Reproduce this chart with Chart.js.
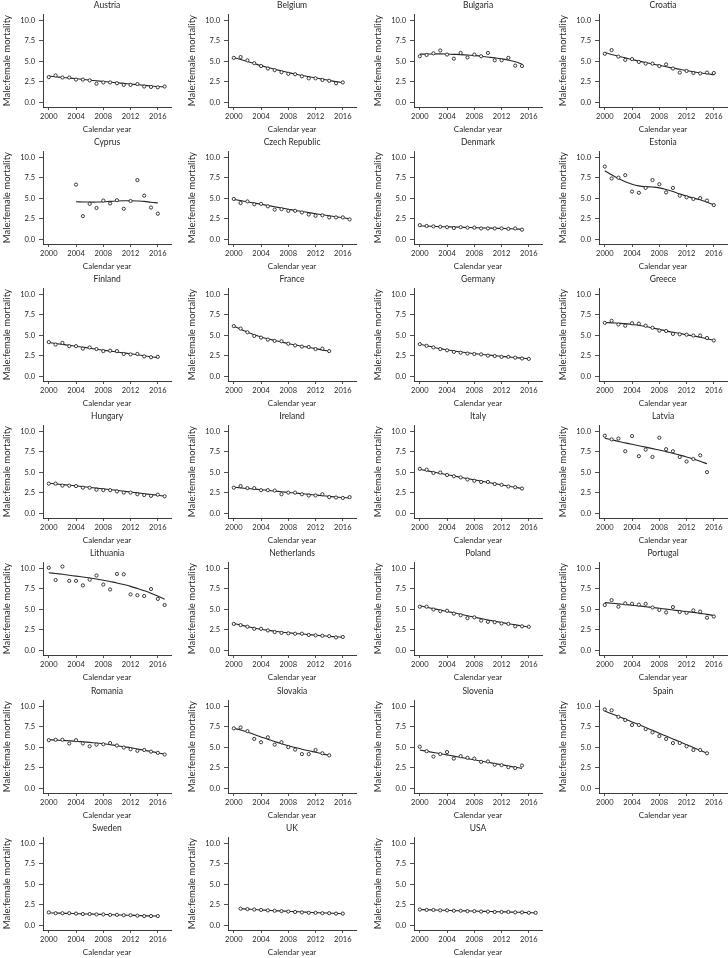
<!DOCTYPE html>
<html>
<head>
<meta charset="utf-8">
<script src="https://cdn.jsdelivr.net/npm/chart.js@4.4.1/dist/chart.umd.min.js"></script>
<style>
  html, body { margin:0; padding:0; background:#fff; width:728px; height:958px; overflow:hidden; position:relative; }
  canvas { position:absolute; }
</style>
</head>
<body>
<script>
// ---------- DATA ----------
const countries = ["Austria","Belgium","Bulgaria","Croatia","Cyprus","Czech Republic","Denmark","Estonia",
  "Finland","France","Germany","Greece","Hungary","Ireland","Italy","Latvia",
  "Lithuania","Netherlands","Poland","Portugal","Romania","Slovakia","Slovenia","Spain",
  "Sweden","UK","USA"];
const startYears = [2000,2000,2000,2000,2004,2000,2000,2000,
  2000,2000,2000,2000,2000,2000,2000,2000,
  2000,2000,2000,2000,2000,2000,2000,2000,
  2000,2001,2000];
const observed = [
  [3.05,3.25,3.0,3.0,2.75,2.75,2.65,2.25,2.4,2.4,2.3,2.1,2.1,2.2,1.9,1.85,1.8,1.9],
  [5.4,5.5,5.1,4.75,4.4,4.1,3.9,3.65,3.45,3.4,3.15,2.9,2.9,2.7,2.6,2.3,2.4],
  [5.6,5.75,5.95,6.3,5.8,5.3,6.0,5.45,5.8,5.6,6.0,5.1,5.1,5.4,4.45,4.4],
  [5.9,6.35,5.55,5.15,5.25,4.9,4.7,4.7,4.4,4.6,4.1,3.6,3.8,3.55,3.5,3.6,3.55],
  [6.65,2.8,4.3,3.8,4.7,4.35,4.75,3.7,4.65,7.2,5.3,3.85,3.1],
  [4.9,4.4,4.6,4.25,4.3,4.0,3.6,3.65,3.45,3.45,3.25,3.0,2.85,2.9,2.65,2.65,2.65,2.4],
  [1.7,1.6,1.55,1.5,1.45,1.35,1.45,1.4,1.4,1.3,1.3,1.3,1.3,1.25,1.3,1.15],
  [8.85,7.4,7.5,7.8,5.8,5.65,6.25,7.2,6.7,5.7,6.25,5.3,5.1,4.9,5.0,4.7,4.15],
  [4.15,3.85,4.05,3.65,3.65,3.35,3.5,3.3,3.05,3.1,3.05,2.7,2.65,2.7,2.4,2.3,2.35],
  [6.1,5.8,5.35,4.9,4.7,4.45,4.3,4.25,3.95,3.75,3.6,3.55,3.3,3.35,3.05],
  [3.9,3.7,3.5,3.3,3.15,2.95,2.85,2.75,2.7,2.65,2.5,2.45,2.35,2.35,2.25,2.15,2.1],
  [6.5,6.75,6.3,6.15,6.45,6.4,6.15,5.9,5.55,5.5,5.15,5.1,5.05,4.95,4.95,4.65,4.35],
  [3.6,3.6,3.35,3.35,3.3,3.1,3.1,2.85,2.8,2.8,2.65,2.5,2.5,2.3,2.2,2.1,2.25,2.05],
  [3.1,3.3,3.05,3.05,2.8,2.8,2.75,2.3,2.5,2.5,2.3,2.15,2.15,2.3,1.95,1.9,1.85,1.95],
  [5.4,5.3,4.9,4.95,4.65,4.5,4.35,4.1,3.95,3.8,3.8,3.55,3.45,3.25,3.15,3.0],
  [9.45,9.0,9.1,7.55,9.4,6.95,7.75,6.85,9.2,7.8,7.55,6.85,6.3,6.6,7.05,5.0],
  [10.05,8.55,10.2,8.45,8.45,7.9,8.6,9.1,8.0,7.4,9.3,9.25,6.8,6.7,6.6,7.45,6.25,5.5],
  [3.2,3.05,2.85,2.6,2.6,2.4,2.2,2.1,2.05,2.0,2.0,1.85,1.8,1.75,1.7,1.55,1.6],
  [5.3,5.3,4.95,4.75,4.8,4.45,4.25,3.9,4.0,3.6,3.45,3.4,3.25,3.2,2.9,2.9,2.85],
  [5.5,6.1,5.3,5.7,5.65,5.55,5.65,5.2,4.9,4.6,5.25,4.65,4.55,4.85,4.7,3.95,4.1],
  [5.85,5.9,5.9,5.45,5.85,5.45,5.1,5.3,5.35,5.5,5.2,4.95,4.75,4.55,4.65,4.45,4.3,4.1],
  [7.3,7.4,6.95,6.0,5.6,6.2,5.3,5.6,5.0,4.7,4.15,4.15,4.65,4.25,4.0],
  [5.05,4.5,3.85,4.15,4.4,3.6,3.9,3.7,3.6,3.2,3.25,2.85,2.8,2.55,2.45,2.75],
  [9.6,9.5,8.7,8.3,7.7,7.7,7.2,6.8,6.35,6.0,5.5,5.5,5.1,4.65,4.65,4.25],
  [1.55,1.45,1.45,1.45,1.4,1.35,1.35,1.3,1.3,1.25,1.25,1.2,1.2,1.15,1.1,1.1,1.1],
  [2.0,1.95,1.9,1.85,1.8,1.75,1.7,1.65,1.6,1.55,1.5,1.5,1.45,1.45,1.4,1.4],
  [1.9,1.85,1.85,1.8,1.8,1.75,1.75,1.7,1.7,1.65,1.65,1.6,1.6,1.6,1.55,1.55,1.5,1.5]
];
const fitted = [
  [3.17,3.09,3.01,2.93,2.85,2.77,2.68,2.6,2.52,2.44,2.36,2.28,2.2,2.12,2.04,1.97,1.9,1.86],
  [5.45,5.2,4.95,4.7,4.45,4.22,4.0,3.8,3.6,3.42,3.25,3.1,2.95,2.8,2.65,2.5,2.38],
  [5.85,5.87,5.88,5.88,5.86,5.83,5.8,5.75,5.68,5.6,5.5,5.4,5.28,5.12,4.92,4.65],
  [6.05,5.82,5.6,5.4,5.2,5.0,4.82,4.65,4.48,4.32,4.15,4.0,3.85,3.7,3.57,3.45,3.35],
  [4.55,4.53,4.52,4.52,4.55,4.6,4.65,4.68,4.68,4.65,4.6,4.5,4.42],
  [4.85,4.7,4.55,4.4,4.25,4.1,3.95,3.8,3.65,3.5,3.37,3.23,3.1,2.97,2.85,2.73,2.6,2.47],
  [1.6,1.58,1.55,1.52,1.5,1.47,1.45,1.42,1.4,1.37,1.35,1.32,1.3,1.27,1.24,1.2],
  [8.35,7.85,7.4,7.0,6.7,6.5,6.4,6.35,6.25,6.05,5.8,5.5,5.25,5.0,4.8,4.5,4.2],
  [4.1,3.98,3.87,3.76,3.65,3.53,3.41,3.28,3.16,3.05,2.94,2.83,2.72,2.6,2.48,2.36,2.25],
  [6.1,5.72,5.38,5.05,4.78,4.55,4.35,4.15,3.97,3.8,3.65,3.5,3.35,3.2,3.02],
  [3.9,3.7,3.52,3.35,3.2,3.06,2.94,2.84,2.75,2.66,2.57,2.49,2.41,2.34,2.26,2.19,2.12],
  [6.55,6.5,6.45,6.4,6.3,6.2,6.05,5.88,5.7,5.52,5.35,5.2,5.05,4.9,4.75,4.57,4.38],
  [3.65,3.57,3.48,3.4,3.32,3.23,3.14,3.05,2.96,2.87,2.77,2.67,2.57,2.47,2.37,2.27,2.17,2.08],
  [3.15,3.08,3.0,2.93,2.85,2.77,2.69,2.6,2.52,2.45,2.37,2.29,2.2,2.12,2.04,1.96,1.9,1.85],
  [5.35,5.18,5.01,4.85,4.69,4.53,4.37,4.21,4.05,3.9,3.75,3.6,3.45,3.3,3.15,3.0],
  [9.15,8.95,8.75,8.57,8.4,8.22,8.05,7.87,7.7,7.5,7.3,7.08,6.85,6.6,6.32,6.02],
  [9.45,9.35,9.25,9.14,9.03,8.92,8.8,8.67,8.53,8.37,8.2,8.0,7.78,7.52,7.25,6.95,6.6,6.2],
  [3.25,3.05,2.87,2.7,2.55,2.42,2.3,2.2,2.11,2.03,1.96,1.89,1.82,1.75,1.68,1.62,1.57],
  [5.4,5.23,5.06,4.89,4.72,4.55,4.37,4.2,4.02,3.85,3.68,3.52,3.37,3.22,3.08,2.95,2.82],
  [5.8,5.72,5.64,5.56,5.48,5.4,5.3,5.2,5.1,5.0,4.9,4.8,4.7,4.6,4.48,4.36,4.22],
  [5.9,5.86,5.81,5.77,5.72,5.65,5.58,5.5,5.42,5.3,5.18,5.05,4.92,4.77,4.62,4.47,4.31,4.15],
  [7.3,7.1,6.85,6.55,6.25,5.95,5.68,5.42,5.18,4.96,4.75,4.55,4.37,4.18,4.0],
  [4.65,4.5,4.35,4.2,4.05,3.9,3.75,3.6,3.45,3.3,3.15,3.0,2.85,2.7,2.55,2.4],
  [9.4,9.08,8.75,8.42,8.08,7.74,7.4,7.05,6.7,6.35,6.0,5.65,5.3,4.95,4.6,4.25],
  [1.5,1.47,1.45,1.42,1.4,1.37,1.35,1.32,1.3,1.27,1.25,1.22,1.2,1.17,1.14,1.12,1.1],
  [2.0,1.95,1.9,1.85,1.8,1.76,1.72,1.68,1.64,1.6,1.56,1.52,1.49,1.46,1.43,1.4],
  [1.9,1.87,1.85,1.82,1.8,1.77,1.75,1.73,1.7,1.68,1.66,1.64,1.62,1.6,1.57,1.55,1.52,1.5]
];
const xTicks = [2000, 2004, 2008, 2012, 2016];
const yTicks = [0, 2.5, 5, 7.5, 10];
const yTitle = "Male:female mortality";
const xTitle = "Calendar year";

// ---------- LAYOUT ----------
const FONT = "Lato, 'Noto Sans', sans-serif";
const INK = "#262626";
const colPitch = 185.3, rowPitch = 137.1, W = 176, H = 137;

countries.forEach((name, i) => {
  const row = Math.floor(i / 4), col = i % 4;
  const cv = document.createElement('canvas');
  cv.width = W; cv.height = H;
  cv.style.left = (col * colPitch) + 'px';
  cv.style.top = (row * rowPitch - 2) + 'px';
  cv.style.width = W + 'px'; cv.style.height = H + 'px';
  document.body.appendChild(cv);

  const obs = observed[i].map((v, k) => ({ x: startYears[i] + k, y: v }));
  const fit = fitted[i].map((v, k) => ({ x: startYears[i] + k, y: v }));

  new Chart(cv, {
    type: 'scatter',
    data: {
      datasets: [
        { type: 'scatter', data: obs, pointStyle: 'circle', pointRadius: 1.6,
          borderColor: INK, backgroundColor: '#ffffff', borderWidth: 0.9 },
        { type: 'line', data: fit, borderColor: INK, borderWidth: 1.1, pointRadius: 0,
          tension: 0.4, fill: false }
      ]
    },
    options: {
      responsive: false, animation: false, devicePixelRatio: 1,
      layout: { padding: { left: 0, right: 4, top: 0, bottom: 0 } },
      plugins: {
        legend: { display: false }, tooltip: { enabled: false },
        title: { display: true, text: name, fullSize: false, color: INK,
          font: { family: FONT, size: 8.5, weight: 'normal' }, padding: { top: 2, bottom: 4 } }
      },
      scales: {
        x: {
          type: 'linear', min: 1999.15, max: 2017.95,
          afterBuildTicks: s => { s.ticks = xTicks.map(v => ({ value: v })); },
          afterFit: s => { s.height = 28; },
          ticks: { color: INK, font: { family: FONT, size: 7.5 }, padding: 2, maxRotation: 0,
            autoSkip: false, callback: v => String(v) },
          grid: { drawOnChartArea: false, drawTicks: true, tickLength: 3, color: INK, tickWidth: 0.8 },
          border: { display: true, color: INK, width: 0.9 },
          title: { display: true, text: xTitle, color: INK, font: { family: FONT, size: 8 },
            padding: { top: 0, bottom: 1 } }
        },
        y: {
          type: 'linear', min: -0.6, max: 10.73,
          afterBuildTicks: s => { s.ticks = yTicks.map(v => ({ value: v })); },
          afterFit: s => { s.width = 43; },
          ticks: { color: INK, font: { family: FONT, size: 7.5 }, padding: 4,
            callback: v => Number(v).toFixed(1) },
          grid: { drawOnChartArea: false, drawTicks: true, tickLength: 4, color: INK, tickWidth: 0.8 },
          border: { display: true, color: INK, width: 0.9 },
          title: { display: true, text: yTitle, color: INK, font: { family: FONT, size: 9.5 },
            padding: { top: 1, bottom: 0 } }
        }
      }
    }
  });
});
</script>
</body>
</html>
